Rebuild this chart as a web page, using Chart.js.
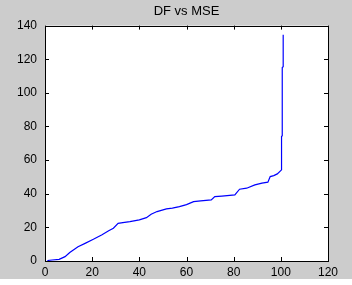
<!DOCTYPE html>
<html>
<head>
<meta charset="utf-8">
<script src="https://cdn.jsdelivr.net/npm/chart.js@4"></script>
<style>
  html, body { margin: 0; padding: 0; background: #ffffff; }
  canvas { display: block; }
</style>
</head>
<body>
<canvas id="grafico" width="352" height="279"></canvas>
<script>
// Curva DF vs MSE al estilo de una figura de MATLAB.
const df = [1, 3, 6, 8.5, 10.5, 14, 17, 20.5, 24, 27, 29, 31, 33, 36, 40, 43, 45, 47.5, 51.5, 54,
  57, 60, 63, 66, 70.5, 72, 75, 80.5, 82.5, 85.5, 89, 92, 94.5, 95.5, 97, 98.5, 100.3, 100.3, 100.6, 100.6, 101, 101];
const mse = [0.3, 0.6, 1, 2.6, 5, 8.5, 10.5, 12.9, 15.5, 18, 19.5, 22.4, 22.8, 23.4, 24.5, 25.8, 27.8, 29.4, 31, 31.5,
  32.3, 33.5, 35.3, 35.8, 36.3, 38.3, 38.6, 39.3, 42.7, 43.3, 45.3, 46.3, 46.9, 50.2, 50.8, 51.8, 54.2, 74, 74.5, 115, 115.5, 134.5];
const ticksX = [0, 20, 40, 60, 80, 100, 120];
const ticksY = [0, 20, 40, 60, 80, 100, 120, 140];
const titulo = 'DF vs MSE';

(function(){
  const fuente = { family: "'Liberation Sans', Arial, sans-serif", size: 12 };

  // Fondo gris, área blanca, caja y marcas hacia dentro en los cuatro lados.
  const marcoMatlab = {
    id: 'marcoMatlab',
    beforeDraw(chart) {
      const { ctx, chartArea: a } = chart;
      ctx.save();
      ctx.fillStyle = '#cccccc';
      ctx.fillRect(0, 0, chart.width, chart.height);
      ctx.fillStyle = '#ffffff';
      ctx.fillRect(a.left, a.top, a.right - a.left, a.bottom - a.top);
      ctx.restore();
    },
    afterDatasetsDraw(chart) {
      const { ctx, chartArea: a, scales } = chart;
      const largo = 4;
      ctx.save();
      ctx.strokeStyle = '#000000';
      ctx.lineWidth = 1;
      ctx.beginPath();
      ticksX.forEach((v) => {
        const px = Math.round(scales.x.getPixelForValue(v)) + 0.5;
        ctx.moveTo(px, a.bottom); ctx.lineTo(px, a.bottom - largo);
        ctx.moveTo(px, a.top); ctx.lineTo(px, a.top + largo);
      });
      ticksY.forEach((v) => {
        const py = Math.round(scales.y.getPixelForValue(v)) + 0.5;
        ctx.moveTo(a.left, py); ctx.lineTo(a.left + largo, py);
        ctx.moveTo(a.right, py); ctx.lineTo(a.right - largo, py);
      });
      ctx.stroke();
      ctx.strokeRect(Math.round(a.left) + 0.5, Math.round(a.top) + 0.5,
        Math.round(a.right - a.left), Math.round(a.bottom - a.top));
      ctx.restore();
    }
  };

  const inicializar = () => {
    const canvas = document.getElementById('grafico');
    if (typeof Chart === 'undefined' || !canvas) return;
    const contexto = canvas.getContext('2d');

    new Chart(contexto, {
      type: 'line',
      data: {
        datasets: [{
          data: df.map((x, i) => ({ x: x, y: mse[i] })),
          borderColor: '#0000ff',
          borderWidth: 1.2,
          tension: 0,
          fill: false,
          pointRadius: 0
        }]
      },
      options: {
        responsive: false,
        animation: false,
        devicePixelRatio: 1,
        layout: { padding: { left: 0, right: 24, top: 0, bottom: 0 } },
        plugins: {
          legend: { display: false },
          tooltip: { enabled: false },
          title: {
            display: true,
            fullSize: false,
            text: titulo,
            color: '#000000',
            font: { family: fuente.family, size: 13, weight: 'normal' },
            padding: { top: 4, bottom: 6 }
          }
        },
        scales: {
          x: {
            type: 'linear',
            min: 0, max: 120,
            afterFit: (escala) => { escala.height = 18; },
            afterBuildTicks: (escala) => { escala.ticks = ticksX.map((v) => ({ value: v })); },
            grid: { display: false, drawTicks: false },
            border: { display: false },
            ticks: { color: '#000000', font: fuente, padding: 4, maxRotation: 0 }
          },
          y: {
            min: 0, max: 140,
            afterFit: (escala) => { escala.width = 45; },
            afterBuildTicks: (escala) => { escala.ticks = ticksY.map((v) => ({ value: v })); },
            grid: { display: false, drawTicks: false },
            border: { display: false },
            ticks: { color: '#000000', font: fuente, padding: 8 }
          }
        }
      },
      plugins: [marcoMatlab]
    });
  };

  if (document.readyState === 'loading') {
    document.addEventListener('DOMContentLoaded', inicializar);
  } else {
    inicializar();
  }
})();
</script>
</body>
</html>
